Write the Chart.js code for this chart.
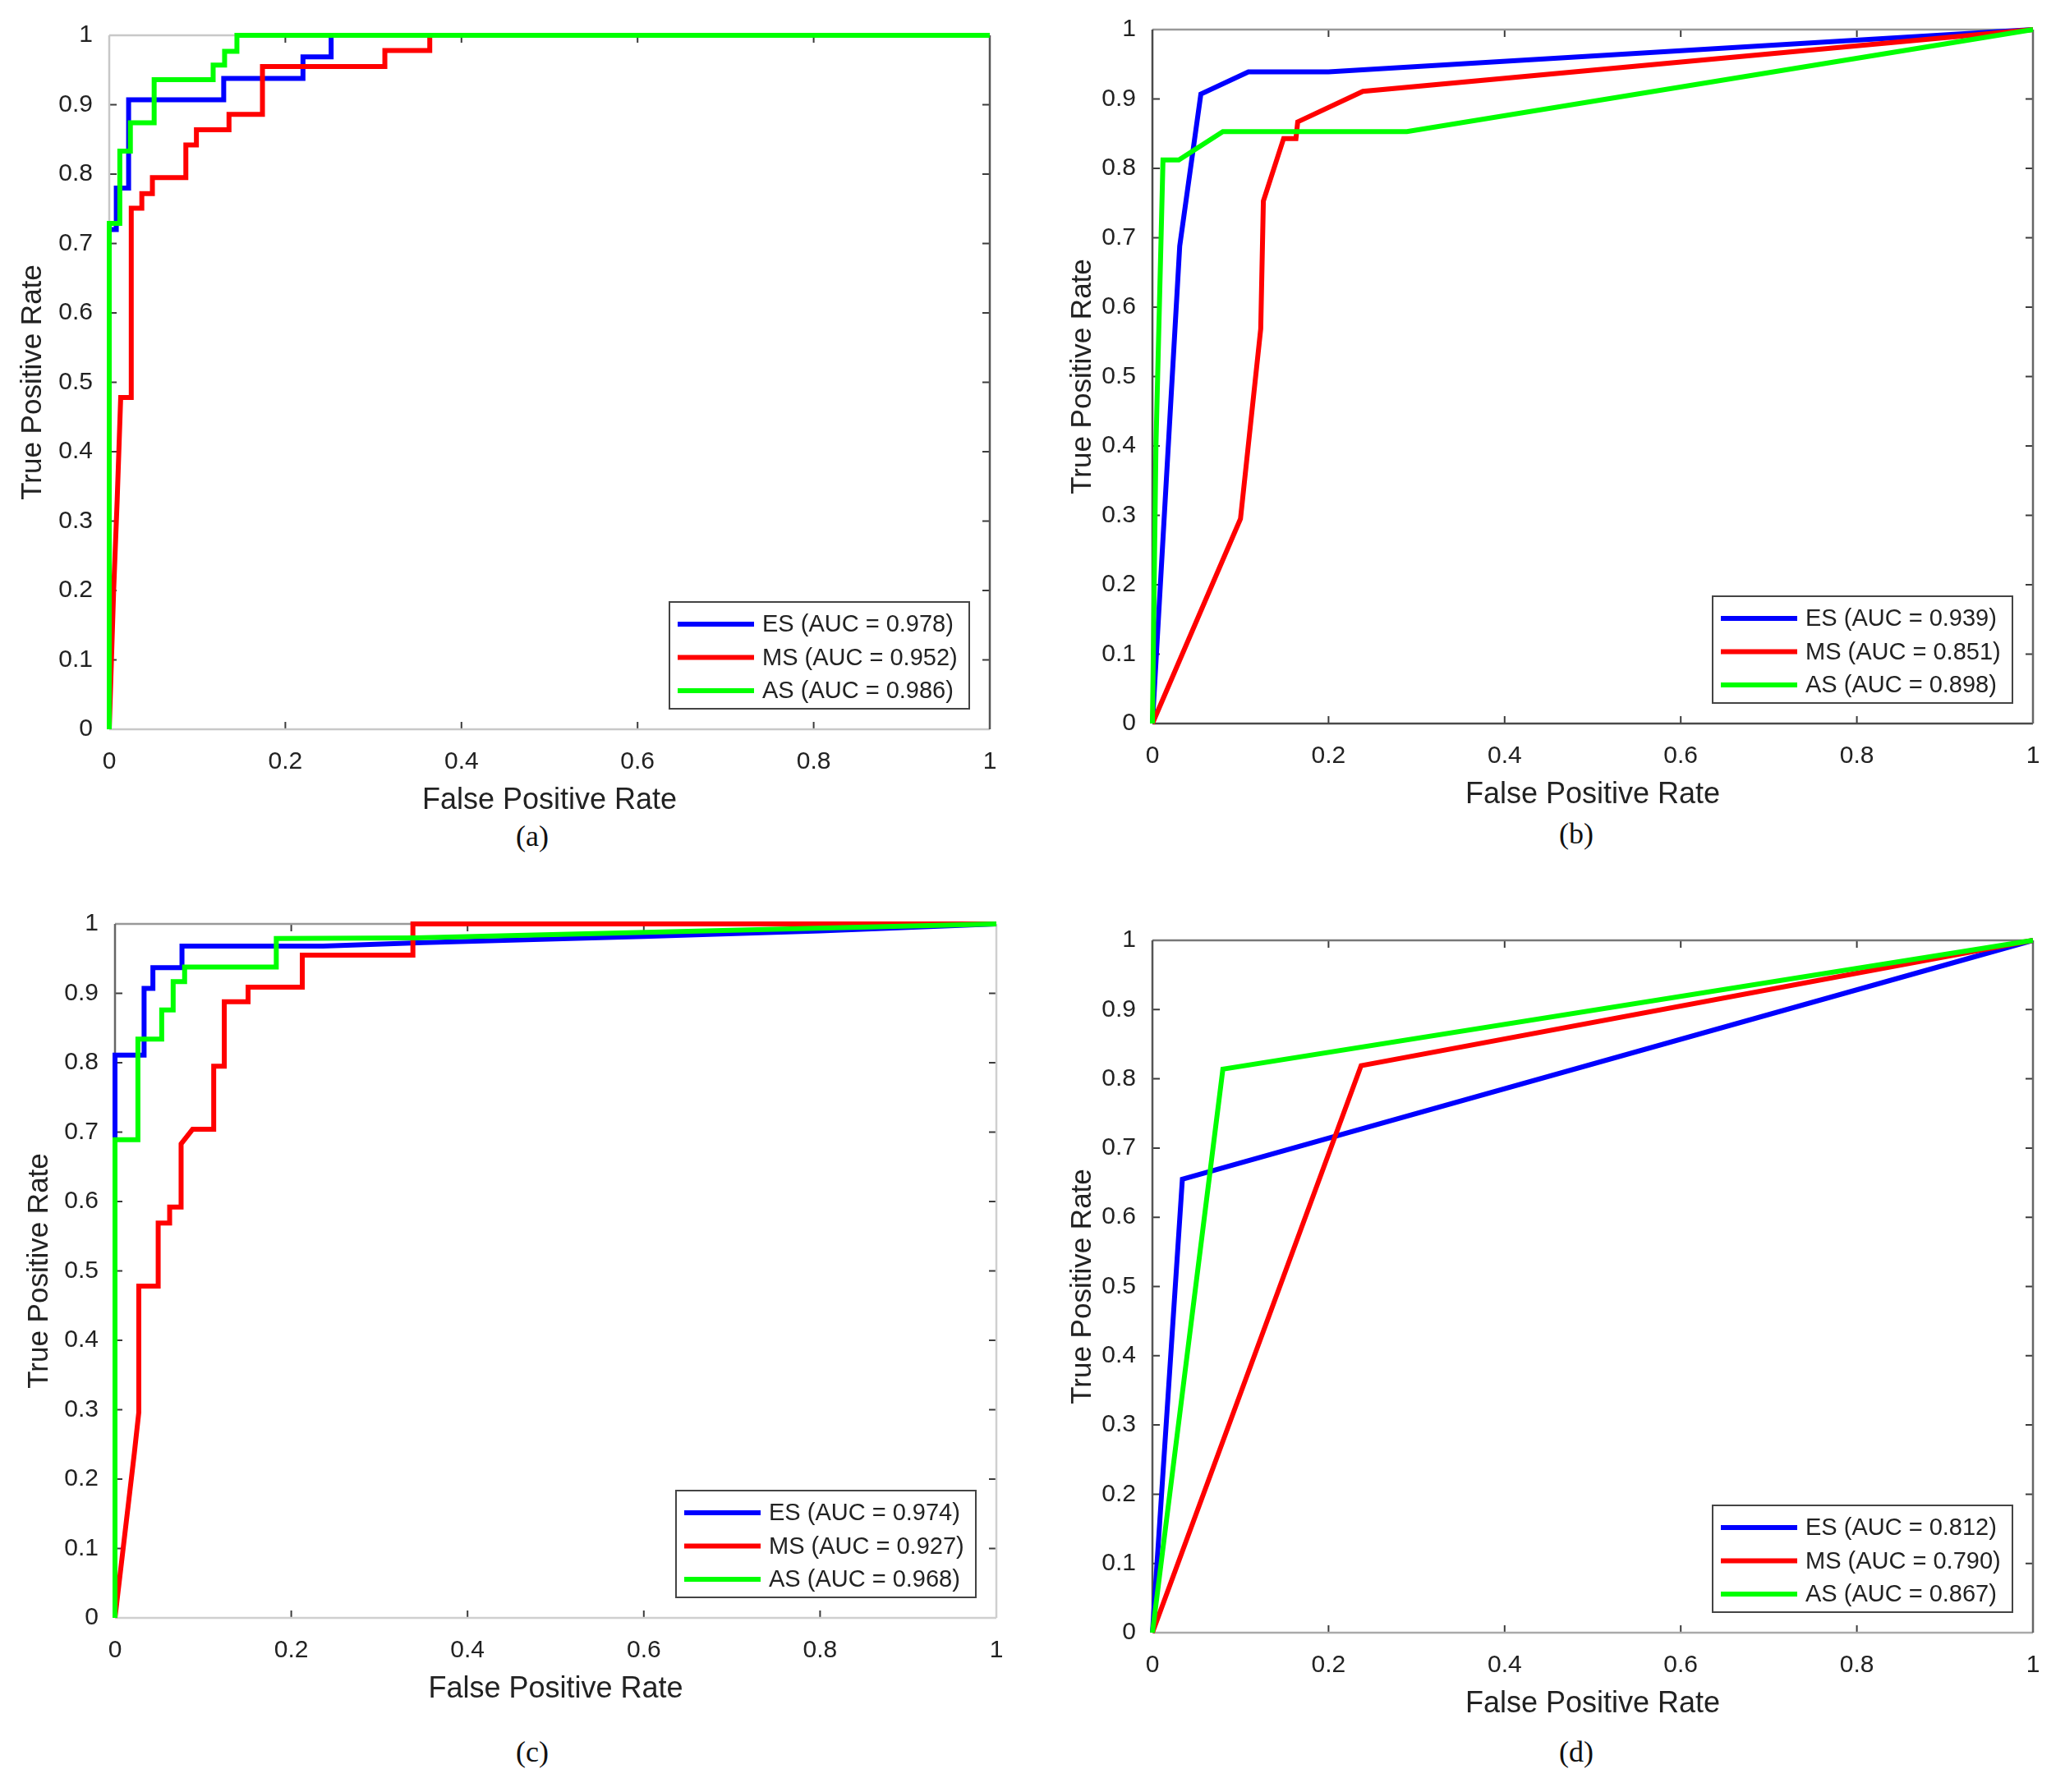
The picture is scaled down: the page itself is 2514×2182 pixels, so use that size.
<!DOCTYPE html>
<html lang="en">
<head>
    <meta charset="UTF-8">
    <title>ROC curves</title>
    <script src="https://cdn.jsdelivr.net/npm/chart.js"></script>
    <style>
        body {
            margin: 0;
            width: 2514px;
            height: 2182px;
            background: #fff;
            overflow: hidden;
            position: relative;
            font-family: 'Liberation Sans', Arial, sans-serif;
        }
        .panel {
            position: absolute;
        }
        .caption {
            position: absolute;
            font-family: 'Liberation Serif', 'Times New Roman', serif;
            font-size: 36px;
            line-height: 1;
            color: #111;
            transform: translate(-50%, -50%);
            white-space: nowrap;
        }
    </style>
</head>
<body>
    <div class="panel" id="boxA"><canvas id="chartA"></canvas></div>
    <div class="panel" id="boxB"><canvas id="chartB"></canvas></div>
    <div class="panel" id="boxC"><canvas id="chartC"></canvas></div>
    <div class="panel" id="boxD"><canvas id="chartD"></canvas></div>

    <div class="caption" style="left:648px; top:1018px;">(a)</div>
    <div class="caption" style="left:1919px; top:1015px;">(b)</div>
    <div class="caption" style="left:648px; top:2133px;">(c)</div>
    <div class="caption" style="left:1919px; top:2133px;">(d)</div>

    <script>
        // series + axes
        const seriesNames = ['ES', 'MS', 'AS'];
        const seriesColors = ['#0000ff', '#ff0000', '#00ff00'];
        const xTickValues = [0, 0.2, 0.4, 0.6, 0.8, 1];
        const xTickLabels = ['0', '0.2', '0.4', '0.6', '0.8', '1'];
        const yTickValues = [0, 0.1, 0.2, 0.3, 0.4, 0.5, 0.6, 0.7, 0.8, 0.9, 1];
        const yTickLabels = ['0', '0.1', '0.2', '0.3', '0.4', '0.5', '0.6', '0.7', '0.8', '0.9', '1'];

        // (a)
        const fprA_ES = [0, 0, 0.008, 0.008, 0.022, 0.022, 0.13, 0.13, 0.22, 0.22, 0.252, 0.252, 1];
        const tprA_ES = [0, 0.72, 0.72, 0.78, 0.78, 0.907, 0.907, 0.938, 0.938, 0.969, 0.969, 1, 1];
        const fprA_MS = [0, 0.005, 0.009, 0.013, 0.025, 0.025, 0.037, 0.037, 0.049, 0.049, 0.087, 0.087, 0.099, 0.099, 0.136, 0.136, 0.174, 0.174, 0.313, 0.313, 0.364, 0.364, 1];
        const tprA_MS = [0, 0.2, 0.33, 0.478, 0.478, 0.751, 0.751, 0.772, 0.772, 0.795, 0.795, 0.842, 0.842, 0.864, 0.864, 0.886, 0.886, 0.955, 0.955, 0.978, 0.978, 1, 1];
        const fprA_AS = [0, 0, 0.012, 0.012, 0.024, 0.024, 0.051, 0.051, 0.118, 0.118, 0.131, 0.131, 0.145, 0.145, 1];
        const tprA_AS = [0, 0.729, 0.729, 0.833, 0.833, 0.874, 0.874, 0.936, 0.936, 0.957, 0.957, 0.977, 0.977, 1, 1];
        const aucA = ['0.978', '0.952', '0.986'];

        // (b)
        const fprB_ES = [0, 0.031, 0.055, 0.109, 0.2, 1];
        const tprB_ES = [0, 0.688, 0.907, 0.939, 0.939, 1];
        const fprB_MS = [0, 0.1, 0.123, 0.126, 0.149, 0.163, 0.165, 0.239, 1];
        const tprB_MS = [0, 0.295, 0.569, 0.753, 0.843, 0.843, 0.867, 0.911, 1];
        const fprB_AS = [0, 0.004, 0.012, 0.03, 0.08, 0.289, 1];
        const tprB_AS = [0, 0.4, 0.812, 0.812, 0.853, 0.853, 1];
        const aucB = ['0.939', '0.851', '0.898'];

        // (c)
        const fprC_ES = [0, 0, 0.033, 0.033, 0.043, 0.043, 0.076, 0.076, 0.236, 0.35, 0.6, 0.8, 1];
        const tprC_ES = [0, 0.811, 0.811, 0.907, 0.907, 0.937, 0.937, 0.968, 0.968, 0.973, 0.982, 0.99, 1];
        const fprC_MS = [0, 0.022, 0.027, 0.027, 0.049, 0.049, 0.062, 0.062, 0.075, 0.075, 0.088, 0.112, 0.112, 0.124, 0.124, 0.151, 0.151, 0.2125, 0.2125, 0.338, 0.338, 1];
        const tprC_MS = [0, 0.238, 0.296, 0.478, 0.478, 0.569, 0.569, 0.592, 0.592, 0.683, 0.704, 0.704, 0.795, 0.795, 0.888, 0.888, 0.909, 0.909, 0.955, 0.955, 1, 1];
        const fprC_AS = [0, 0, 0.026, 0.026, 0.053, 0.053, 0.066, 0.066, 0.079, 0.079, 0.183, 0.183, 0.34, 1];
        const tprC_AS = [0, 0.689, 0.689, 0.834, 0.834, 0.876, 0.876, 0.917, 0.917, 0.938, 0.938, 0.979, 0.98, 1];
        const aucC = ['0.974', '0.927', '0.968'];

        // (d)
        const fprD_ES = [0, 0.034, 1];
        const tprD_ES = [0, 0.655, 1];
        const fprD_MS = [0, 0.237, 1];
        const tprD_MS = [0, 0.819, 1];
        const fprD_AS = [0, 0.08, 1];
        const tprD_AS = [0, 0.814, 1];
        const aucD = ['0.812', '0.790', '0.867'];

        const Y_AXIS_W = 130;
        const X_AXIS_H = 110;
        const PAD_TOP = 40;   // must be >= half label height + tick padding, else chart.js pushes the area down
        const PAD_RIGHT = 40;
        const TICK_LEN = 9;

        // box round the axes with matlab style inward ticks
        const frameTicks = {
            id: 'frameTicks',
            beforeDatasetsDraw(chart, args, opts) {
                const { ctx, chartArea: a, scales: { x, y } } = chart;
                ctx.save();
                ctx.lineWidth = 2;
                ctx.strokeStyle = '#3c3c3c';
                ctx.beginPath();
                x.ticks.forEach(t => {
                    const px = x.getPixelForValue(t.value);
                    ctx.moveTo(px, a.bottom); ctx.lineTo(px, a.bottom - TICK_LEN);
                    ctx.moveTo(px, a.top); ctx.lineTo(px, a.top + TICK_LEN);
                });
                y.ticks.forEach(t => {
                    const py = y.getPixelForValue(t.value);
                    ctx.moveTo(a.left, py); ctx.lineTo(a.left + TICK_LEN, py);
                    ctx.moveTo(a.right, py); ctx.lineTo(a.right - TICK_LEN, py);
                });
                ctx.stroke();

                ctx.lineWidth = 2.5;
                const side = (c, x1, y1, x2, y2) => {
                    ctx.strokeStyle = c;
                    ctx.beginPath();
                    ctx.moveTo(x1, y1);
                    ctx.lineTo(x2, y2);
                    ctx.stroke();
                };
                side(opts.top, a.left, a.top, a.right, a.top);
                side(opts.bottom, a.left, a.bottom, a.right, a.bottom);
                side(opts.left, a.left, a.top, a.left, a.bottom);
                side(opts.right, a.right, a.top, a.right, a.bottom);
                ctx.restore();
            }
        };

        // legend box in the lower right corner
        const rocLegend = {
            id: 'rocLegend',
            afterDatasetsDraw(chart) {
                const { ctx, chartArea: a } = chart;
                const w = 365, h = 130;
                const bx = a.right - 25 - w;
                const by = a.bottom - 25 - h;
                ctx.save();
                ctx.fillStyle = '#fff';
                ctx.fillRect(bx, by, w, h);
                ctx.strokeStyle = '#444';
                ctx.lineWidth = 2;
                ctx.strokeRect(bx, by, w, h);
                ctx.font = '29px "Liberation Sans", Arial, sans-serif';
                ctx.textBaseline = 'middle';
                chart.data.datasets.forEach((ds, i) => {
                    const ly = by + 27 + i * 40.5;
                    ctx.strokeStyle = ds.borderColor;
                    ctx.lineWidth = 6;
                    ctx.beginPath();
                    ctx.moveTo(bx + 10, ly);
                    ctx.lineTo(bx + 103, ly);
                    ctx.stroke();
                    ctx.fillStyle = '#222';
                    ctx.fillText(ds.label, bx + 113, ly + 1);
                });
                ctx.restore();
            }
        };

        function pts(xs, ys) {
            return xs.map((v, i) => ({ x: v, y: ys[i] }));
        }

        function makePanel(canvasId, boxId, plot, fprs, tprs, auc, yTitlePad, frame) {
            const [left, top, right, bottom] = plot;
            const box = document.getElementById(boxId);
            box.style.left = (left - Y_AXIS_W) + 'px';
            box.style.top = (top - PAD_TOP) + 'px';
            box.style.width = (right - left + Y_AXIS_W + PAD_RIGHT) + 'px';
            box.style.height = (bottom - top + PAD_TOP + X_AXIS_H) + 'px';

            const datasets = seriesNames.map((name, i) => ({
                label: `${name} (AUC = ${auc[i]})`,
                data: pts(fprs[i], tprs[i]),
                borderColor: seriesColors[i],
                backgroundColor: seriesColors[i],
                borderWidth: 6,
                pointRadius: 0,
                showLine: true,
                fill: false,
                tension: 0,
                clip: false,
                order: 3 - i
            }));

            new Chart(document.getElementById(canvasId), {
                type: 'scatter',
                data: { datasets },
                options: {
                    responsive: true,
                    maintainAspectRatio: false,
                    animation: false,
                    events: [],
                    layout: { padding: { top: PAD_TOP, right: PAD_RIGHT, left: 0, bottom: 0 } },
                    plugins: {
                        legend: { display: false },
                        tooltip: { enabled: false },
                        frameTicks: frame
                    },
                    scales: {
                        x: {
                            type: 'linear',
                            min: 0,
                            max: 1,
                            grid: { display: false, drawTicks: false },
                            border: { display: false },
                            afterBuildTicks: s => { s.ticks = xTickValues.map(v => ({ value: v })); },
                            afterFit: s => { s.height = X_AXIS_H; },
                            ticks: {
                                padding: 22,
                                color: '#222',
                                maxRotation: 0,
                                autoSkip: false,
                                font: { family: 'Liberation Sans', size: 30 },
                                callback: (v, i) => xTickLabels[i]
                            },
                            title: {
                                display: true,
                                text: 'False Positive Rate',
                                color: '#222',
                                font: { family: 'Liberation Sans', size: 36 },
                                padding: { top: 0, bottom: 1 }
                            }
                        },
                        y: {
                            type: 'linear',
                            min: 0,
                            max: 1,
                            grid: { display: false, drawTicks: false },
                            border: { display: false },
                            afterBuildTicks: s => { s.ticks = yTickValues.map(v => ({ value: v })); },
                            afterFit: s => { s.width = Y_AXIS_W; },
                            ticks: {
                                padding: 20,
                                color: '#222',
                                autoSkip: false,
                                font: { family: 'Liberation Sans', size: 30 },
                                callback: (v, i) => yTickLabels[i]
                            },
                            title: {
                                display: true,
                                text: 'True Positive Rate',
                                color: '#222',
                                font: { family: 'Liberation Sans', size: 35 },
                                padding: { top: yTitlePad, bottom: 0 }
                            }
                        }
                    }
                },
                plugins: [frameTicks, rocLegend]
            });
        }

        makePanel('chartA', 'boxA', [133, 43, 1205, 888],
            [fprA_ES, fprA_MS, fprA_AS], [tprA_ES, tprA_MS, tprA_AS], aucA, 16,
            { top: '#c8c8c8', left: '#c8c8c8', bottom: '#c8c8c8', right: '#555' });

        makePanel('chartB', 'boxB', [1403, 36, 2475, 881],
            [fprB_ES, fprB_MS, fprB_AS], [tprB_ES, tprB_MS, tprB_AS], aucB, 24,
            { top: '#999', left: '#4a4a4a', bottom: '#4a4a4a', right: '#666' });

        makePanel('chartC', 'boxC', [140, 1125, 1213, 1970],
            [fprC_ES, fprC_MS, fprC_AS], [tprC_ES, tprC_MS, tprC_AS], aucC, 17,
            { top: '#999', left: '#666', bottom: '#cfcfcf', right: '#cfcfcf' });

        makePanel('chartD', 'boxD', [1403, 1145, 2475, 1988],
            [fprD_ES, fprD_MS, fprD_AS], [tprD_ES, tprD_MS, tprD_AS], aucD, 24,
            { top: '#777', left: '#555', bottom: '#aaa', right: '#666' });
    </script>
</body>
</html>
